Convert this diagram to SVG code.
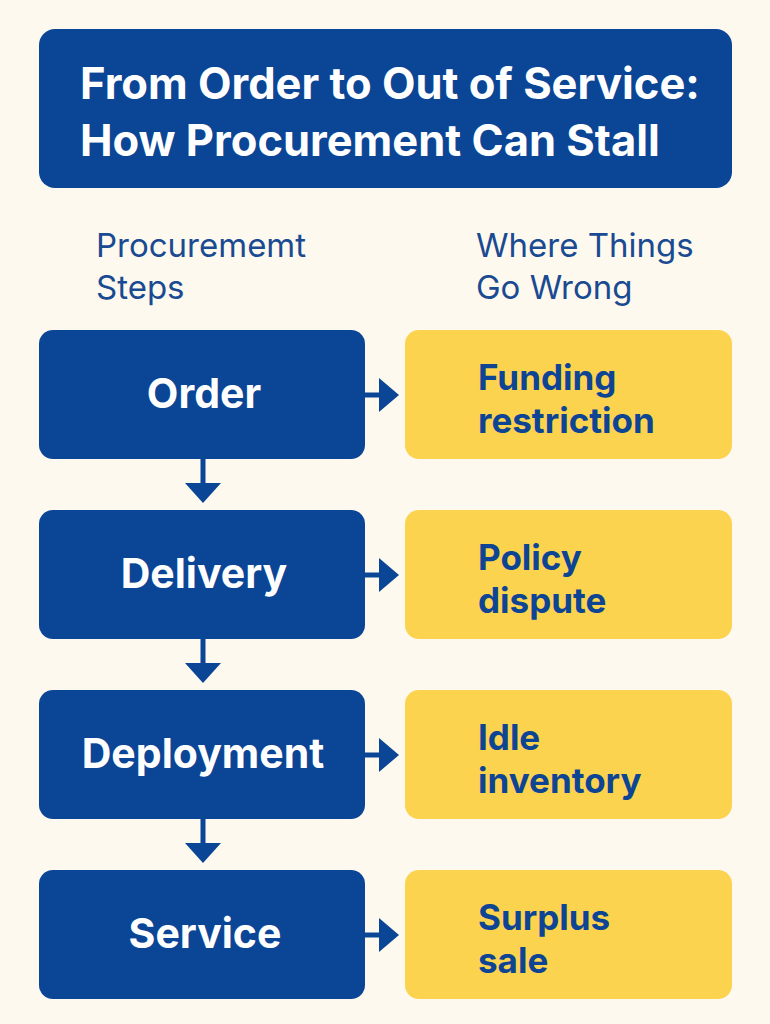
<svg xmlns="http://www.w3.org/2000/svg" width="770" height="1024" viewBox="0 0 770 1024">
<defs>
<style>
.bg{fill:#fdf9ee}
.blue{fill:#0b4596}
.yel{fill:#fcd34f}
.title{font-family:Inter,"Liberation Sans",sans-serif;font-weight:700;font-size:43.5px;fill:#ffffff}
.hdr{font-family:Inter,"Liberation Sans",sans-serif;font-size:33px;fill:#1a4a92}
.step{font-family:Inter,"Liberation Sans",sans-serif;font-weight:700;font-size:41px;fill:#ffffff;text-anchor:middle}
.issue{font-family:Inter,"Liberation Sans",sans-serif;font-weight:700;font-size:35px;fill:#0d4494}
.conn{stroke:#0b4596;stroke-width:5;fill:none}
.head{fill:#0b4596}
</style>
</defs>
<rect class="bg" x="0" y="0" width="770" height="1024"/>
<g id="title">
<rect class="blue" x="39" y="29" width="693" height="159" rx="16"/>
<text class="title" x="80" y="99">From Order to Out of Service:</text>
<text class="title" x="80" y="156">How Procurement Can Stall</text>
</g>
<g id="headers">
<text class="hdr" x="96" y="257">Procurememt</text>
<text class="hdr" x="96" y="299">Steps</text>
<text class="hdr" x="476" y="257">Where Things</text>
<text class="hdr" x="476" y="299">Go Wrong</text>
</g>
<g id="order"><rect class="blue" x="39" y="330" width="326" height="129" rx="14"/><text class="step" x="204" y="408">Order</text></g>
<g id="delivery"><rect class="blue" x="39" y="510" width="326" height="129" rx="14"/><text class="step" x="204" y="588">Delivery</text></g>
<g id="deployment"><rect class="blue" x="39" y="690" width="326" height="129" rx="14"/><text class="step" x="203" y="768">Deployment</text></g>
<g id="service"><rect class="blue" x="39" y="870" width="326" height="129" rx="14"/><text class="step" x="205" y="948">Service</text></g>
<g id="funding"><rect class="yel" x="405" y="330" width="327" height="129" rx="14"/><text class="issue" x="478" y="390">Funding</text><text class="issue" x="478" y="433">restriction</text></g>
<g id="policy"><rect class="yel" x="405" y="510" width="327" height="129" rx="14"/><text class="issue" x="478" y="570">Policy</text><text class="issue" x="478" y="613">dispute</text></g>
<g id="idle"><rect class="yel" x="405" y="690" width="327" height="129" rx="14"/><text class="issue" x="478" y="750">Idle</text><text class="issue" x="478" y="793">inventory</text></g>
<g id="surplus"><rect class="yel" x="405" y="870" width="327" height="129" rx="14"/><text class="issue" x="478" y="930">Surplus</text><text class="issue" x="478" y="973">sale</text></g>
<g id="connectors">
<line class="conn" x1="365" y1="395" x2="381" y2="395"/><polygon class="head" points="379,378 399,395 379,412"/>
<line class="conn" x1="365" y1="575" x2="381" y2="575"/><polygon class="head" points="379,558 399,575 379,592"/>
<line class="conn" x1="365" y1="755" x2="381" y2="755"/><polygon class="head" points="379,738 399,755 379,772"/>
<line class="conn" x1="365" y1="935" x2="381" y2="935"/><polygon class="head" points="379,918 399,935 379,952"/>
<line class="conn" x1="203" y1="459" x2="203" y2="485"/><polygon class="head" points="185,483 221,483 203,503"/>
<line class="conn" x1="203" y1="639" x2="203" y2="665"/><polygon class="head" points="185,663 221,663 203,683"/>
<line class="conn" x1="203" y1="819" x2="203" y2="845"/><polygon class="head" points="185,843 221,843 203,863"/>
</g>
</svg>
